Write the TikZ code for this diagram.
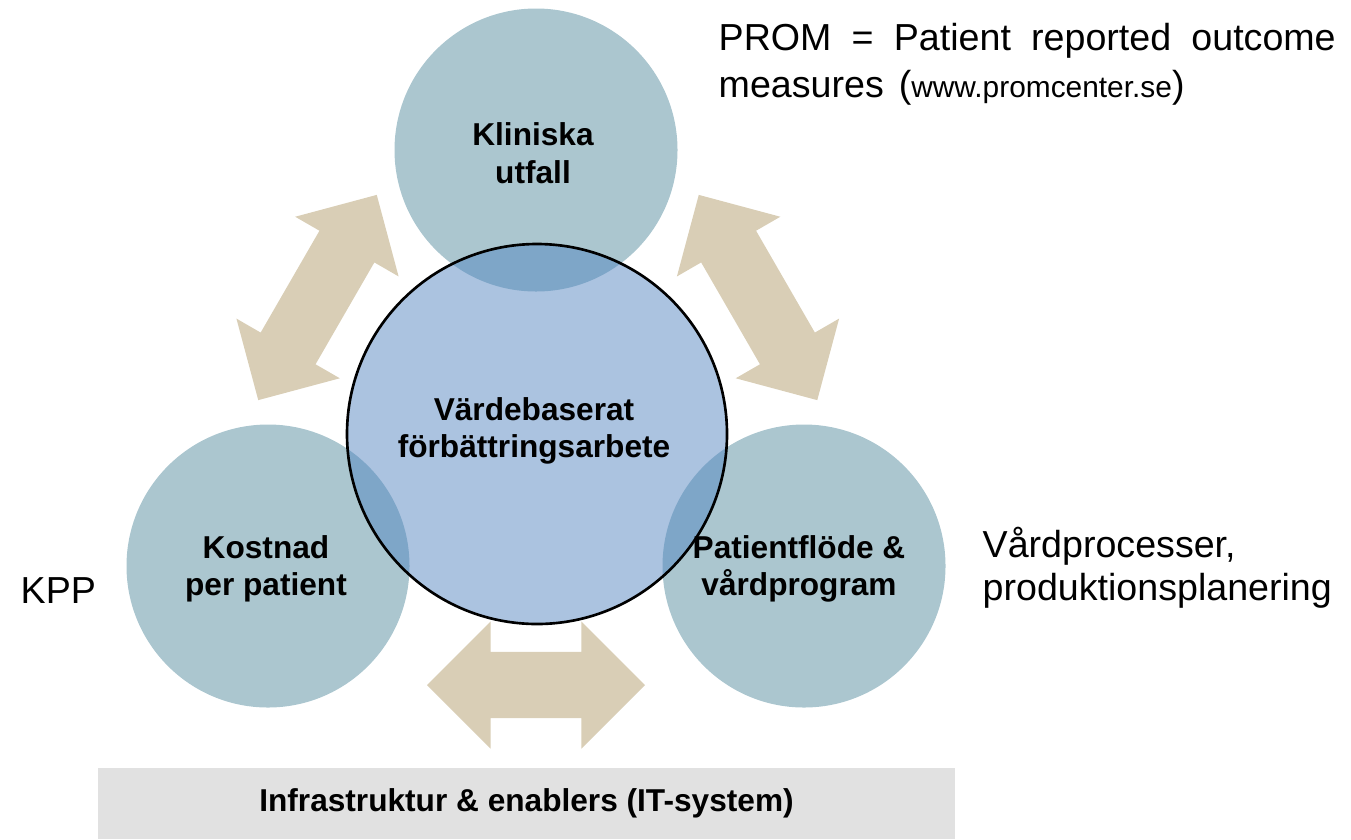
\documentclass[tikz,border=0pt]{standalone}
\usepackage{fontspec}
\setmainfont{Liberation Sans}
\usepackage{tikz}
\usetikzlibrary{shapes.arrows}

\definecolor{tealgrey}{HTML}{ABC6CF}
\definecolor{paleblue}{HTML}{ABC3E0}
\definecolor{deepblue}{HTML}{7EA6C8}
\definecolor{sand}{HTML}{D9CEB6}
\definecolor{bargrey}{HTML}{E1E1E1}

\begin{document}
\begin{tikzpicture}[x=0.1mm, y=-0.1mm]
    \tikzstyle{disc}=[circle, fill=tealgrey, minimum size=2.83cm, inner sep=0pt]
    \tikzstyle{lbl}=[align=center, font=\fontsize{9}{10.7}\selectfont\bfseries]
    \tikzstyle{note}=[font=\fontsize{10.7}{12.1}\selectfont, inner sep=0pt]
    \tikzstyle{swap}=[double arrow, fill=sand, inner xsep=0pt, inner ysep=0.31cm, double arrow head extend=0.28cm, minimum height=2.37cm]

    \useasboundingbox (0, 0) rectangle (1351, 839);

    \foreach \n/\x/\y in {klin/536/150, kost/268/566, flode/804/566}
        \node[disc] (\n) at (\x, \y) {};

    \node[circle, fill=paleblue, minimum size=3.8cm, inner sep=0pt] (varde) at (537, 434) {};

    % where the middle disc covers the outer ones
    \begin{scope}
        \clip (varde.center) circle (190);
        \foreach \n in {klin, kost, flode}
            \fill[deepblue] (\n.center) circle (141.5);
    \end{scope}
    \draw[line width=0.75pt] (varde.center) circle (190);

    \node[swap, rotate=60] (west) at (317.5, 297.5) {};
    \node[swap, rotate=-60] (east) at (758, 297.5) {};
    \node[swap, inner ysep=0.325cm, minimum height=2.18cm, double arrow head extend=0.305cm] (south) at (536, 685) {};

    \node[lbl] (klintxt) at (533, 153) {Kliniska\\utfall};
    \node[lbl] (kosttxt) at (266, 569) {Kostnad\\per patient};
    \node[lbl] (flodetxt) at (799, 569) {Patientflöde \&\\vårdprogram};
    \node[lbl] (vardetxt) at (534, 431) {Värdebaserat\\förbättringsarbete};

    \node[fill=bargrey, minimum width=8.57cm, minimum height=0.71cm, inner sep=0pt,
          font=\fontsize{9}{10.7}\selectfont\bfseries] (infra) at (526.5, 803.5)
          {Infrastruktur \& enablers (IT-system)};

    \node[note, anchor=base west] (prom) at (718, 50)
          {\makebox[6.17cm][s]{PROM = Patient reported outcome}};
    \node[note, anchor=base west] (promweb) at (718, 97)
          {measures\hspace{0.15cm}({\fontsize{8.5}{10}\selectfont www.promcenter.se})};
    \node[note, anchor=base west, align=left] (proc) at (982, 600)
          {Vårdprocesser,\\produktionsplanering};
    \node[note, anchor=base west] (kpp) at (20, 603) {KPP};
\end{tikzpicture}
\end{document}
